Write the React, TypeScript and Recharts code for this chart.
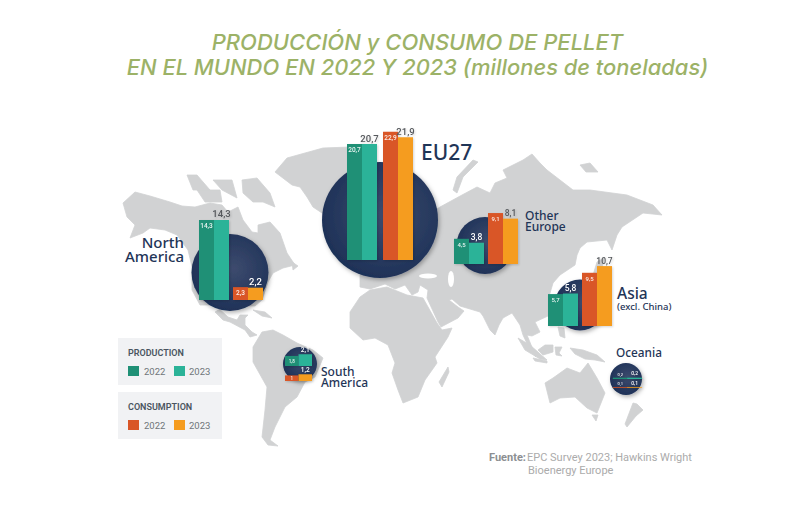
import React from 'react';
import { BarChart, Bar, XAxis, YAxis, Cell, LabelList } from 'recharts';

// values, millones de toneladas: [production, consumption]
const GROUPS = ['Production', 'Consumption'];
const EU27_2022 = [20.7, 22.9];
const EU27_2023 = [20.7, 21.9];
const NORTH_AMERICA_2022 = [14.3, 2.3];
const NORTH_AMERICA_2023 = [14.3, 2.2];
const OTHER_EUROPE_2022 = [4.5, 9.1];
const OTHER_EUROPE_2023 = [3.8, 8.1];
const ASIA_2022 = [5.7, 9.5];
const ASIA_2023 = [5.8, 10.7];
const SOUTH_AMERICA_2022 = [1.8, 1];
const SOUTH_AMERICA_2023 = [2.1, 1.2];
const OCEANIA_2022 = [0.2, 0.1];
const OCEANIA_2023 = [0.2, 0.1];

const COLORS = [
  ['#1f9076', '#2bb398'],
  ['#d95627', '#f59c1f'],
];
const PX_PER_UNIT = 5.6;
const NAVY = '#1f3557';
const TITLE_FONT = 'Inter, "Noto Sans", sans-serif';
const LABEL_FONT = '"Noto Sans", "Open Sans", sans-serif';
const NUM_FONT = 'Roboto, "Open Sans", sans-serif';

// background world map, decoration only
const MAP_SHAPES = [
  // north america
  '123,203 135,192 150,196 170,202 182,206 195,207 210,203 222,205 228,212 238,207 243,220 252,232 258,233 258,225 270,222 280,233 287,253 295,265 283,268 273,273 268,282 262,300 255,306 240,306 225,306 215,312 223,320 230,322 245,330 250,337 257,335 252,332 245,325 245,318 248,315 240,315 237,320 228,317 215,305 200,305 192,290 192,267 188,250 177,235 165,230 150,228 143,233 130,238 135,225 127,217',
  '187,175 197,175 210,190 193,190',
  '197,190 220,190 222,202 205,202',
  '213,180 232,180 237,198 222,190',
  '242,180 257,178 270,193 275,207 263,202 253,202 243,193',
  '253,310 265,312 272,318 262,316',
  '292,262 298,266 293,270',
  // greenland
  '275,172 287,158 323,148 350,147 362,170 340,215 322,213 313,207 307,197 300,187 292,185',
  // south america
  '253,347 262,332 273,330 283,335 297,343 313,350 323,358 315,377 305,382 297,397 285,407 275,427 270,440 278,446 268,445 262,437 265,410 267,387 253,362',
  // africa
  '350,312 360,297 370,290 387,287 407,295 423,298 437,323 442,330 452,328 448,337 435,357 437,363 425,380 418,397 403,403 398,390 392,373 395,363 388,345 375,338 363,340 350,328',
  '448,367 449,372 442,387 439,382',
  // eurasia
  '360,275 360,287 370,289 385,284 395,289 405,285 412,295 418,292 420,285 428,290 427,298 438,322 441,327 458,318 464,311 458,307 449,300 452,299 460,306 480,312 483,316 490,330 495,335 499,325 503,318 512,313 520,325 523,335 530,350 536,357 527,335 532,336 540,332 535,322 548,316 548,300 553,283 560,275 575,265 577,255 580,248 587,242 607,240 612,250 617,235 622,227 643,213 662,215 653,205 627,195 590,190 573,190 547,170 540,163 532,154 523,160 503,170 507,178 495,183 490,193 477,187 462,195 440,207 420,220 390,220',
  '453,190 457,177 473,160 478,162 463,177 457,193',
  '597,262 604,258 600,280 590,285',
  '580,165 590,163 598,172 586,172',
  // asia islands
  '518,338 530,345 547,360 540,359 525,350',
  '538,350 545,345 553,345 553,352 543,355',
  '555,347 562,347 559,353 562,356 556,355',
  '558,327 564,328 565,338 560,336',
  '570,348 583,350 597,355 605,362 595,360 585,359 575,354',
  '533,358 547,361 547,363 535,361',
  // oceania
  '545,383 553,378 567,368 580,373 588,363 597,378 605,393 597,413 587,408 575,397 560,398 550,403',
  '592,415 598,415 596,421',
  '633,403 637,404 643,410 636,416 627,427 625,424',
];

// dark globes behind the bars
const GLOBES = [
  { cx: 380, cy: 220, r: 58 },
  { cx: 230, cy: 272.5, r: 38.5 },
  { cx: 485, cy: 245.5, r: 28.5 },
  { cx: 580, cy: 305, r: 25.5 },
  { cx: 300, cy: 364, r: 17 },
  { cx: 626, cy: 379, r: 16 },
];

const fmt = (v: number) => String(v).replace('.', ',');

const makeRows = (idx: number[], v22: number[], v23: number[]) =>
  idx.map((i) => ({ name: GROUPS[i], group: i, y2022: v22[i], y2023: v23[i] }));

type Chart = {
  rows: { name: string; group: number; y2022: number; y2023: number }[];
  left: number;
  baseline: number;
  band: number;
  bar: number;
  height: number;
  topFill: string[]; // colour of the 2023 figure, per row
  inFont: number;
  topFont: number;
  edge?: number;
};

const DARK = '#55585c';
const WHITE = '#ffffff';

const CHARTS: Chart[] = [
  { rows: makeRows([0, 1], EU27_2022, EU27_2023), left: 344, baseline: 260, band: 36, bar: 15, height: 155, topFill: [DARK, DARK], inFont: 6.5, topFont: 9.5 },
  { rows: makeRows([0, 1], NORTH_AMERICA_2022, NORTH_AMERICA_2023), left: 197, baseline: 300, band: 34, bar: 15, height: 110, topFill: [DARK, WHITE], inFont: 6.5, topFont: 9.5 },
  { rows: makeRows([0, 1], OTHER_EUROPE_2022, OTHER_EUROPE_2023), left: 452, baseline: 264, band: 34, bar: 15, height: 80, topFill: [WHITE, DARK], inFont: 6, topFont: 8.5 },
  { rows: makeRows([0, 1], ASIA_2022, ASIA_2023), left: 546, baseline: 326, band: 34, bar: 15, height: 90, topFill: [WHITE, DARK], inFont: 6, topFont: 8.5 },
  { rows: makeRows([0], SOUTH_AMERICA_2022, SOUTH_AMERICA_2023), left: 283, baseline: 366, band: 30, bar: 15, height: 30, topFill: [WHITE], inFont: 4.5, topFont: 6.5 },
  { rows: makeRows([1], SOUTH_AMERICA_2022, SOUTH_AMERICA_2023), left: 283, baseline: 381, band: 30, bar: 15, height: 26, topFill: [WHITE, WHITE], inFont: 4.5, topFont: 6.5 },
  { rows: makeRows([0], OCEANIA_2022, OCEANIA_2023), left: 611, baseline: 378.5, band: 32, bar: 16, height: 20, topFill: [WHITE], inFont: 4, topFont: 5, edge: 0.4 },
  { rows: makeRows([1], OCEANIA_2022, OCEANIA_2023), left: 611, baseline: 387.5, band: 32, bar: 16, height: 20, topFill: [WHITE, WHITE], inFont: 4, topFont: 5, edge: 0.4 },
];

const RegionBars = ({ c }: { c: Chart }) => {
  const width = c.band * c.rows.length;
  const inLabel = (p: any) => {
    const thin = p.height < 4;
    return (
      <text x={p.x + p.width / 2} y={thin ? p.y - 2 : p.y + Math.min(8, p.height / 2 + 2)} textAnchor='middle' fontSize={c.inFont} fontWeight={500} fontFamily={NUM_FONT} fill={WHITE} opacity={0.9}>
        {fmt(p.value)}
      </text>
    );
  };
  const topLabel = (p: any) => (
    <text x={p.x + p.width / 2} y={p.y - 2.5} textAnchor='middle' fontSize={c.topFont} fontWeight={500} fontFamily={NUM_FONT} fill={c.topFill[c.rows[p.index].group] ?? c.topFill[0]}>
      {fmt(p.value)}
    </text>
  );
  return (
    <div style={{ position: 'absolute', left: c.left, top: c.baseline - c.height, filter: 'drop-shadow(1px 1px 1px rgba(0,0,0,0.16))' }}>
      <BarChart width={width} height={c.height} data={c.rows} margin={{ top: 0, right: 0, bottom: 0, left: 0 }} barGap={0} barSize={c.bar} style={{ overflow: 'visible' }}>
        <XAxis dataKey='name' hide />
        <YAxis hide type='number' domain={[0, c.height / PX_PER_UNIT]} />
        <Bar dataKey='y2022' isAnimationActive={false}>
          {c.rows.map((r) => <Cell key={r.name} fill={COLORS[r.group][0]} stroke={c.edge ? COLORS[r.group][0] : 'none'} strokeWidth={c.edge ?? 0} />)}
          <LabelList dataKey='y2022' content={inLabel} />
        </Bar>
        <Bar dataKey='y2023' isAnimationActive={false}>
          {c.rows.map((r) => <Cell key={r.name} fill={COLORS[r.group][1]} stroke={c.edge ? COLORS[r.group][1] : 'none'} strokeWidth={c.edge ?? 0} />)}
          <LabelList dataKey='y2023' content={topLabel} />
        </Bar>
      </BarChart>
    </div>
  );
};

const Txt = ({ x, y, size, weight = 500, fill = NAVY, anchor = 'start', font = LABEL_FONT, children }: any) => (
  <text x={x} y={y} fontSize={size} fontWeight={weight} fill={fill} textAnchor={anchor} fontFamily={font}>{children}</text>
);

const LegendBox = ({ y, title, row }: { y: number; title: string; row: number }) => (
  <g>
    <rect x={118} y={y} width={104} height={47} fill='#f1f2f4' />
    <Txt x={128} y={y + 18} size={9} weight={600} fill='#4a5560' font={NUM_FONT}>{title}</Txt>
    <rect x={128} y={y + 28} width={11} height={10} fill={COLORS[row][0]} />
    <Txt x={144} y={y + 36.5} size={9.5} weight={400} fill='#6f7579' font={NUM_FONT}>2022</Txt>
    <rect x={174} y={y + 28} width={11} height={10} fill={COLORS[row][1]} />
    <Txt x={189} y={y + 36.5} size={9.5} weight={400} fill='#6f7579' font={NUM_FONT}>2023</Txt>
  </g>
);

export default function App() {
  return (
    <div style={{ position: 'absolute', left: 0, top: 0, width: 800, height: 509, background: WHITE, overflow: 'hidden' }}>
      <svg width={800} height={509} style={{ position: 'absolute', left: 0, top: 0 }}>
        <defs>
          <radialGradient id='globe' cx='55%' cy='45%' r='60%'>
            <stop offset='0%' stopColor='#3d4b6e' />
            <stop offset='100%' stopColor='#1c3056' />
          </radialGradient>
          <filter id='soft' x='-20%' y='-20%' width='150%' height='150%'>
            <feDropShadow dx='1.5' dy='2' stdDeviation='2' floodColor='#000000' floodOpacity='0.3' />
          </filter>
        </defs>

        <text x={417.5} y={50} textAnchor='middle' fontSize={22} fontWeight={500} fontStyle='italic' fill='#9cb267' fontFamily={TITLE_FONT}>
          PRODUCCIÓN y CONSUMO DE PELLET
        </text>
        <text x={417.5} y={75} textAnchor='middle' fontSize={21.9} fontWeight={500} fontStyle='italic' fill='#9cb267' fontFamily={TITLE_FONT}>
          EN EL MUNDO EN 2022 Y 2023 (millones de toneladas)
        </text>

        {MAP_SHAPES.map((pts, i) => (
          <polygon key={i} points={pts} fill='#d1d2d3' stroke='#d1d2d3' strokeWidth={0.8} strokeLinejoin='round' />
        ))}
        <ellipse cx={428} cy={276} rx={9} ry={2.5} fill={WHITE} />
        <ellipse cx={451} cy={279} rx={3} ry={8} fill={WHITE} />

        {GLOBES.map((g) => (
          <circle key={g.cx} cx={g.cx} cy={g.cy} r={g.r} fill='url(#globe)' filter='url(#soft)' />
        ))}

        <LegendBox y={338} title='PRODUCTION' row={0} />
        <LegendBox y={392} title='CONSUMPTION' row={1} />

        <Txt x={421} y={160} size={21}>EU27</Txt>
        <Txt x={184} y={248} size={15} anchor='end'>North</Txt>
        <Txt x={184} y={262} size={15} anchor='end'>America</Txt>
        <Txt x={525} y={220} size={12}>Other</Txt>
        <Txt x={525} y={231} size={12}>Europe</Txt>
        <Txt x={617} y={299} size={15.5}>Asia</Txt>
        <Txt x={617} y={310} size={9.5}>(excl. China)</Txt>
        <Txt x={616} y={357} size={11.8}>Oceania</Txt>
        <Txt x={321} y={376} size={12}>South</Txt>
        <Txt x={321} y={387} size={12}>America</Txt>

        <Txt x={489} y={461} size={11} weight={700} fill='#8c8f92' font={NUM_FONT}>Fuente:</Txt>
        <Txt x={527} y={461} size={11} weight={400} fill='#ababab' font={NUM_FONT}>EPC Survey 2023; Hawkins Wright</Txt>
        <Txt x={528} y={474} size={11} weight={400} fill='#ababab' font={NUM_FONT}>Bioenergy Europe</Txt>
      </svg>

      {CHARTS.map((c, i) => <RegionBars key={i} c={c} />)}
    </div>
  );
}
